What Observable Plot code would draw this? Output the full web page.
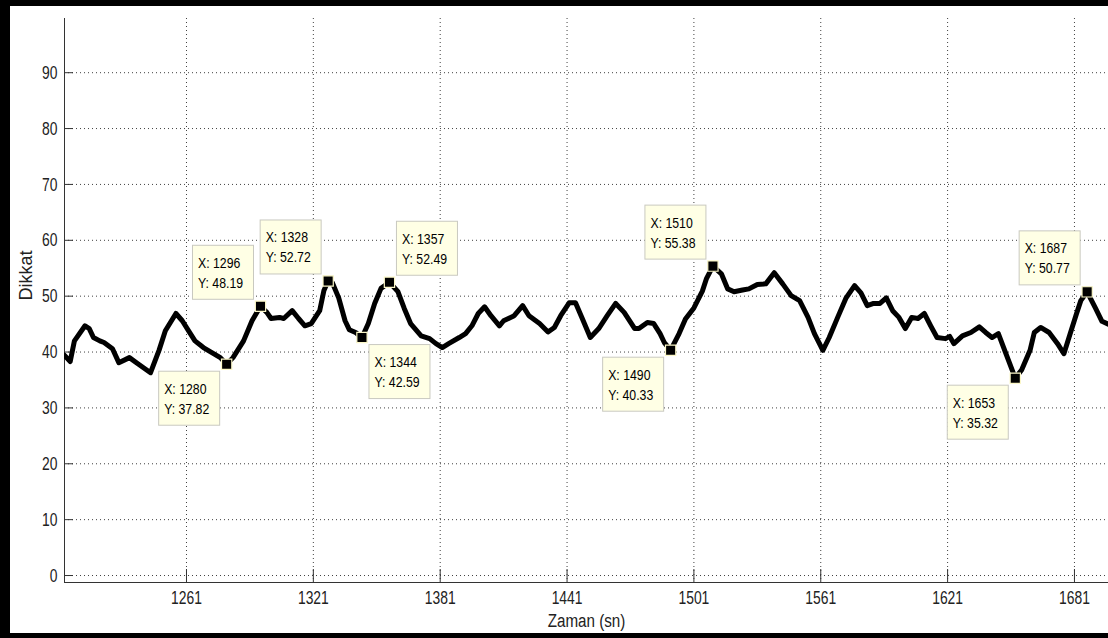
<!DOCTYPE html>
<html><head><meta charset="utf-8">
<script src="https://cdn.jsdelivr.net/npm/d3@7"></script>
<script src="https://cdn.jsdelivr.net/npm/@observablehq/plot@0.6"></script>
<style>
body{margin:0;background:#fff;}
#wrap{position:relative;width:1108px;height:638px;overflow:hidden;background:#fff;}
#chart svg{position:absolute;left:0;top:0;}
.bar{position:absolute;background:#000;}
</style></head><body>
<div id="wrap"><div id="chart"></div>
<div class="bar" style="left:0;top:0;width:1108px;height:6px"></div>
<div class="bar" style="left:0;top:0;width:10px;height:638px"></div>
<div class="bar" style="left:0;top:633px;width:1108px;height:5px"></div>
</div>
<script>
const times = [1203,1206,1208,1213,1215,1217,1220,1222,1226,1229,1234,1238,1244,1248,1251,1256,1259,1262,1265,1269,1273,1277,1280,1283,1288,1292,1296,1299,1301,1305,1307,1311,1314,1317,1320,1324,1326,1328,1330,1333,1336,1338,1341,1344,1347,1350,1353,1357,1361,1364,1367,1372,1376,1379,1382,1385,1390,1393,1396,1399,1402,1405,1409,1411,1416,1420,1423,1428,1432,1435,1438,1442,1445,1448,1452,1456,1460,1464,1468,1473,1475,1479,1482,1485,1487,1490,1494,1497,1501,1505,1507,1510,1514,1517,1520,1524,1527,1531,1535,1539,1543,1547,1551,1555,1558,1562,1565,1569,1573,1577,1580,1583,1586,1589,1592,1595,1598,1601,1604,1607,1610,1613,1616,1620,1622,1624,1628,1632,1636,1639,1642,1645,1648,1653,1656,1660,1662,1665,1669,1673,1676,1679,1682,1684,1687,1691,1694,1697];
const attention = [39.5,38.3,42.0,44.7,44.2,42.6,42.0,41.7,40.6,38.1,39.0,37.9,36.3,40.3,43.8,46.9,45.6,43.8,42.0,40.8,39.9,39.0,37.82,39.0,42.0,45.6,48.19,47.1,46.0,46.2,46.0,47.4,46.0,44.7,45.1,47.4,51.0,52.72,52.4,49.7,45.6,44.0,43.5,42.59,45.1,48.7,51.4,52.49,50.8,47.8,45.1,42.9,42.4,41.5,40.8,41.5,42.6,43.3,44.7,46.9,48.1,46.5,44.7,45.6,46.5,48.3,46.5,45.1,43.6,44.4,46.5,48.8,48.8,46.2,42.6,44.2,46.5,48.7,47.1,44.2,44.2,45.3,45.1,43.3,41.7,40.33,43.3,45.9,47.9,50.9,53.2,55.38,54.0,51.3,50.8,51.1,51.3,52.1,52.2,54.2,52.2,50.1,49.2,46.2,43.3,40.3,42.6,46.2,49.7,51.9,50.6,48.3,48.7,48.7,49.7,47.4,46.2,44.2,46.2,46.0,46.9,44.7,42.6,42.4,42.8,41.5,42.9,43.5,44.5,43.5,42.6,43.3,40.3,35.32,36.8,40.3,43.5,44.4,43.5,41.5,39.7,43.3,46.9,49.2,50.77,47.8,45.5,45.0];
const tipX = [1280,1296,1328,1344,1357,1490,1510,1653,1687];
const tipY = [37.82,48.19,52.72,42.59,52.49,40.33,55.38,35.32,50.77];
const xTicks = [1261,1321,1381,1441,1501,1561,1621,1681];
const yTicks = [0,10,20,30,40,50,60,70,80,90];
const xLabel = "Zaman (sn)";
const yLabel = "Dikkat";

const series = times.map((t,i)=>({t, v: attention[i]}));
const tips = tipX.map((x,i)=>({x, y: tipY[i]}));
const placement = ["bottom-left","top-left","top-left","bottom-right","top-right","bottom-left","top-left","bottom-left","top-left"];

const font = 'Arial,"Liberation Sans",sans-serif';
const W = 1108, H = 638, mL = 64, mR = 0, mT = 18, mB = 56;
const xDom = [1203.3, 1697.1], yDom = [-1.25, 99.7];
const gridStyle = {stroke: "#000", strokeOpacity: 0.75, strokeDasharray: "1,3"};
const ink = "#222";

const plot = Plot.plot({
  width: W, height: H,
  marginLeft: mL, marginRight: mR, marginTop: mT, marginBottom: mB,
  style: {fontFamily: font, fontSize: "19px", color: ink, background: "transparent", overflow: "visible"},
  x: {domain: xDom, axis: null},
  y: {domain: yDom, axis: null},
  marks: [
    Plot.gridX(xTicks, gridStyle),
    Plot.gridY(yTicks, gridStyle),
    Plot.ruleX(xTicks, {stroke: "#333", insetTop: (H - mT - mB) - 13}),
    Plot.ruleY(yTicks, {stroke: "#333", insetRight: (W - mL - mR) - 9}),
    Plot.ruleX([xDom[0]], {stroke: "#333"}),
    Plot.ruleY([yDom[0]], {stroke: "#333"}),
    Plot.axisX(xTicks, {tickSize: 0, tickPadding: 8, label: null, fill: ink, tickFormat: d => String(d)}),
    Plot.axisY(yTicks, {tickSize: 0, tickPadding: 7, label: null, fill: ink, tickFormat: d => String(d)}),
    Plot.line(series, {x: "t", y: "v", stroke: "#000", strokeWidth: 5, strokeLinejoin: "round", strokeLinecap: "round", clip: true}),
    Plot.dot(tips, {x: "x", y: "y", symbol: "square", r: 5.8, fill: "#000", stroke: "#fbf7c8", strokeWidth: 1.2}),
    Plot.text([xLabel], {frameAnchor: "bottom", dy: 44, fill: ink}),
    Plot.text([yLabel], {frameAnchor: "left", rotate: -90, dx: -39, fill: ink})
  ]
});

function squeeze(el, s) {
  const t = el.getAttribute("transform");
  if (t) {
    el.setAttribute("transform", t + ` scale(${s},1)`);
  } else {
    const x = +el.getAttribute("x") || 0, y = +el.getAttribute("y") || 0;
    el.removeAttribute("x"); el.removeAttribute("y");
    el.setAttribute("transform", `translate(${x},${y}) scale(${s},1)`);
  }
}
const root = d3.select(plot);
root.selectAll("text").each(function() {
  const s = this.textContent;
  if (/^\d+$/.test(s)) squeeze(this, 0.73);
  else if (s === xLabel) squeeze(this, 0.8);
  else if (s === yLabel) squeeze(this, 0.95);
});

const sx = plot.scale("x"), sy = plot.scale("y");
const g = root.append("g").attr("font-family", font).attr("font-size", 15).attr("text-anchor", "start");
tips.forEach((d, i) => {
  const px = sx.apply(d.x), py = sy.apply(d.y);
  const [v, h] = placement[i].split("-");
  const bw = 61, bh = 54, gap = 7;
  const bx = h === "left" ? px - gap - bw : px + gap;
  const by = v === "top" ? py - gap - bh : py + gap;
  g.append("rect").attr("x", bx + 0.5).attr("y", by + 0.5).attr("width", bw).attr("height", bh)
    .attr("fill", "#ffffe5").attr("stroke", "#c9c9c0");
  g.append("text").attr("transform", `translate(${bx + 6},${by + 23}) scale(0.82,1)`).attr("fill", "#000").text("X: " + d.x);
  g.append("text").attr("transform", `translate(${bx + 6},${by + 43}) scale(0.82,1)`).attr("fill", "#000").text("Y: " + d.y.toFixed(2));
});
document.getElementById("chart").append(plot);
</script>
</body></html>
